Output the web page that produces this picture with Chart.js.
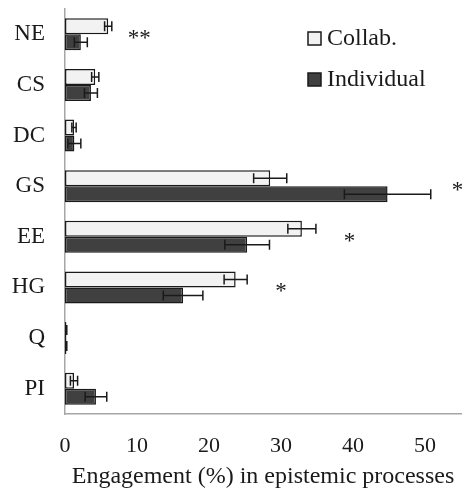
<!DOCTYPE html>
<html>
<head>
<meta charset="utf-8">
<script src="https://cdn.jsdelivr.net/npm/chart.js@4"></script>
<style>
  html, body { margin: 0; padding: 0; background: #fff; }
  #wrap { width: 466px; height: 491px; }
</style>
</head>
<body>
<div id="wrap"><canvas id="c" width="466" height="491"></canvas></div>
<script>
const categories = ['NE', 'CS', 'DC', 'GS', 'EE', 'HG', 'Q', 'PI'];
const collabValues = [6.0, 4.2, 1.25, 28.5, 32.9, 23.7, 0.2, 1.25];
const collabErrors = [0.5, 0.5, 0.3, 2.3, 1.95, 1.6, 0.05, 0.5];
const individualValues = [2.2, 3.6, 1.3, 44.8, 25.3, 16.4, 0.2, 4.3];
const individualErrors = [0.9, 0.9, 0.9, 6.0, 3.1, 2.75, 0.05, 1.5];
const significance = ['**', '', '', '*', '*', '*', '', ''];
const significanceAt = [10.3, null, null, 54.5, 39.5, 30.0, null, null];
const xTicks = [0, 10, 20, 30, 40, 50];
const seriesNames = ['Collab.', 'Individual'];

const FONT = '"Liberation Serif", "Times New Roman", serif';
const INK = '#1a1a1a';

const errorBars = {
  id: 'errorBars',
  afterDatasetsDraw(chart) {
    const ctx = chart.ctx;
    const xs = chart.scales.x;
    const errs = [collabErrors, individualErrors];
    ctx.save();
    ctx.strokeStyle = INK;
    ctx.lineWidth = 1.5;
    chart.data.datasets.forEach((ds, di) => {
      const meta = chart.getDatasetMeta(di);
      meta.data.forEach((el, i) => {
        const v = ds.data[i];
        const e = errs[di][i];
        const x1 = xs.getPixelForValue(v - e);
        const x2 = xs.getPixelForValue(v + e);
        const y = el.y;
        const h = 5;
        ctx.beginPath();
        ctx.moveTo(x1, y); ctx.lineTo(x2, y);
        ctx.moveTo(x1, y - h); ctx.lineTo(x1, y + h);
        ctx.moveTo(x2, y - h); ctx.lineTo(x2, y + h);
        ctx.stroke();
      });
    });
    ctx.restore();
  }
};

const stars = {
  id: 'stars',
  afterDatasetsDraw(chart) {
    const ctx = chart.ctx;
    const xs = chart.scales.x, ys = chart.scales.y;
    ctx.save();
    ctx.fillStyle = INK;
    ctx.font = '23px ' + FONT;
    ctx.textAlign = 'center';
    ctx.textBaseline = 'middle';
    significance.forEach((s, i) => {
      if (!s) return;
      ctx.fillText(s, xs.getPixelForValue(significanceAt[i]), ys.getPixelForValue(i) + 5);
    });
    ctx.restore();
  }
};

const customLegend = {
  id: 'customLegend',
  afterDraw(chart) {
    const ctx = chart.ctx;
    const fills = ['#f2f2f2', '#404040'];
    const bx = 308, by = [32, 73], size = 13;
    ctx.save();
    ctx.font = '24px ' + FONT;
    ctx.textBaseline = 'middle';
    ctx.textAlign = 'left';
    seriesNames.forEach((n, i) => {
      ctx.fillStyle = fills[i];
      ctx.strokeStyle = INK;
      ctx.lineWidth = 1.5;
      ctx.fillRect(bx, by[i], size, size);
      ctx.strokeRect(bx, by[i], size, size);
      ctx.fillStyle = INK;
      ctx.fillText(n, bx + 19, by[i] + size / 2);
    });
    ctx.restore();
  }
};

new Chart(document.getElementById('c'), {
  type: 'bar',
  data: {
    labels: categories,
    datasets: [
      { label: seriesNames[0], data: collabValues, backgroundColor: '#f2f2f2', borderColor: INK, borderWidth: 1.5, borderSkipped: false },
      { label: seriesNames[1], data: individualValues, backgroundColor: '#404040', borderColor: INK, borderWidth: 1.5, borderSkipped: false }
    ]
  },
  options: {
    indexAxis: 'y',
    responsive: false,
    animation: false,
    devicePixelRatio: 1,
    categoryPercentage: 0.63,
    barPercentage: 1.0,
    layout: { padding: { top: 9, right: 5, left: 0, bottom: 0 } },
    plugins: { legend: { display: false }, tooltip: { enabled: false } },
    scales: {
      x: {
        min: 0, max: 55,
        afterBuildTicks(scale) { scale.ticks = xTicks.map(v => ({ value: v })); },
        afterFit(scale) { scale.height = 77; scale.paddingLeft = 0; scale.paddingRight = 0; },
        grid: { display: false, drawTicks: false },
        border: { display: true, color: '#a6a6a6', width: 1.5 },
        ticks: { color: INK, font: { family: FONT, size: 22 }, padding: 19 },
        title: { display: true, text: 'Engagement (%) in epistemic processes', color: INK, font: { family: FONT, size: 24 }, padding: { top: 4, bottom: 0 } }
      },
      y: {
        afterFit(scale) { scale.width = 65; scale.paddingTop = 0; scale.paddingBottom = 0; },
        grid: { display: false, drawTicks: false },
        border: { display: true, color: '#a6a6a6', width: 1.5 },
        ticks: { color: INK, font: { family: FONT, size: 23 }, padding: 20 }
      }
    }
  },
  plugins: [errorBars, stars, customLegend]
});
</script>
</body>
</html>
